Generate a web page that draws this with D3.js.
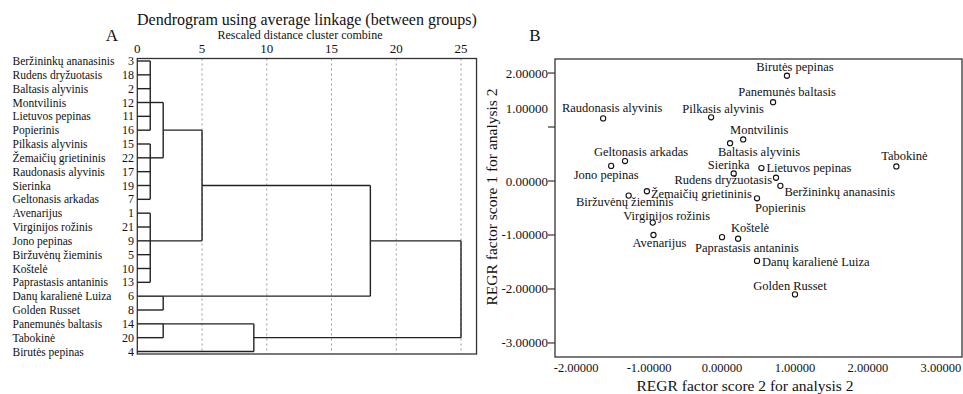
<html>
<head>
<meta charset="utf-8">
<script src="https://d3js.org/d3.v7.min.js"></script>
<style>
body { margin: 0; background: white; }
svg text { font-family: "Liberation Serif", "Times New Roman", serif; fill: #111; }
</style>
</head>
<body>
<svg width="963" height="394"></svg>
<script>
// ---- panel A: dendrogram data ----
const leafNames = ["Beržininkų ananasinis", "Rudens dryžuotasis", "Baltasis alyvinis", "Montvilinis",
  "Lietuvos pepinas", "Popierinis", "Pilkasis alyvinis", "Žemaičių grietininis", "Raudonasis alyvinis",
  "Sierinka", "Geltonasis arkadas", "Avenarijus", "Virginijos rožinis", "Jono pepinas",
  "Biržuvėnų žieminis", "Koštelė", "Paprastasis antaninis", "Danų karalienė Luiza", "Golden Russet",
  "Panemunės baltasis", "Tabokinė", "Birutės pepinas"];
const leafIds = [3, 18, 2, 12, 11, 16, 15, 22, 17, 19, 7, 1, 21, 9, 5, 10, 13, 6, 8, 14, 20, 4];
// merges: members are leaf rows (numbers) or earlier cluster ids; row = row where the joined branch leaves
const merges = [
  {id: "A", members: [0, 1, 2, 3, 4, 5], dist: 1, row: 3},
  {id: "B", members: [6, 7, 8, 9, 10], dist: 1, row: 7},
  {id: "C", members: [11, 12, 13, 14, 15, 16], dist: 1, row: 13},
  {id: "AB", members: ["A", "B"], dist: 2, row: 5},
  {id: "D", members: [17, 18], dist: 2, row: 17},
  {id: "E", members: [19, 20], dist: 2, row: 19},
  {id: "ABC", members: ["AB", "C"], dist: 5, row: 9},
  {id: "EF", members: ["E", 21], dist: 9, row: 20},
  {id: "ABCD", members: ["ABC", "D"], dist: 18, row: 13},
  {id: "root", members: ["ABCD", "EF"], dist: 25, row: null}
];
const distTicks = [0, 5, 10, 15, 20, 25];

// ---- panel B: factor scores ----
const cultivars = ["Birutės pepinas", "Panemunės baltasis", "Pilkasis alyvinis", "Raudonasis alyvinis",
  "Montvilinis", "Baltasis alyvinis", "Geltonasis arkadas", "Jono pepinas", "Sierinka", "Lietuvos pepinas",
  "Tabokinė", "Rudens dryžuotasis", "Beržininkų ananasinis", "Žemaičių grietininis", "Biržuvėnų žieminis",
  "Popierinis", "Virginijos rožinis", "Avenarijus", "Koštelė", "Paprastasis antaninis",
  "Danų karalienė Luiza", "Golden Russet"];
const score2 = [0.89, 0.70, -0.15, -1.63, 0.29, 0.11, -1.33, -1.52, 0.16, 0.54,
  2.39, 0.74, 0.80, -1.03, -1.28, 0.48, -0.95, -0.94, 0.22, 0.00, 0.48, 1.00];
const score1 = [1.95, 1.46, 1.18, 1.16, 0.77, 0.70, 0.37, 0.28, 0.14, 0.24,
  0.27, 0.06, -0.09, -0.19, -0.27, -0.32, -0.77, -1.00, -1.07, -1.04, -1.48, -2.10];
const xTicks = [-2, -1, 0, 1, 2, 3];
const yTicks = [2, 1, 0, -1, -2, -3];

const svg = d3.select("svg");
svg.append("rect").attr("width", 963).attr("height", 394).attr("fill", "white");

// ================= A =================
const dx = d3.scaleLinear().domain([0, 25]).range([137.3, 461]);
const dy = d3.scaleLinear().domain([0, 21]).range([61, 351.5]);
const frameA = {left: dx(0), right: dx(26.2), top: 58.5, bottom: 354};

const gA = svg.append("g");
gA.append("text").attr("x", 112).attr("y", 41).attr("text-anchor", "middle")
  .style("font-size", "17px").text("A");
gA.append("text").attr("x", (frameA.left + frameA.right) / 2).attr("y", 25)
  .attr("text-anchor", "middle").style("font-size", "16px")
  .text("Dendrogram using average linkage (between groups)");
gA.append("text").attr("x", 300).attr("y", 38.5).attr("text-anchor", "middle")
  .style("font-size", "12px").text("Rescaled distance cluster combine");

gA.selectAll(".grid").data(distTicks.filter(d => d > 0)).enter().append("line")
  .attr("x1", d => dx(d)).attr("x2", d => dx(d))
  .attr("y1", frameA.top).attr("y2", frameA.bottom)
  .attr("stroke", "#999").attr("stroke-width", 1).attr("stroke-dasharray", "2,3");

gA.selectAll(".tick").data(distTicks).enter().append("text")
  .attr("x", d => dx(d)).attr("y", 53).attr("text-anchor", "middle")
  .style("font-size", "13px").text(d => d);

gA.append("rect").attr("x", frameA.left).attr("y", frameA.top)
  .attr("width", frameA.right - frameA.left).attr("height", frameA.bottom - frameA.top)
  .attr("fill", "none").attr("stroke", "#333").attr("stroke-width", 1.3);

gA.selectAll(".name").data(leafNames).enter().append("text")
  .attr("x", 12.5).attr("y", (d, i) => dy(i) + 4).style("font-size", "11.5px").text(d => d);
gA.selectAll(".num").data(leafIds).enter().append("text")
  .attr("x", 134).attr("y", (d, i) => dy(i) + 4).attr("text-anchor", "end")
  .style("font-size", "12px").text(d => d);

const node = {};
merges.forEach(m => {
  const kids = m.members.map(k => typeof k === "number" ? {row: k, dist: 0} : node[k]);
  kids.forEach(k => {
    gA.append("line").attr("x1", dx(k.dist)).attr("x2", dx(m.dist))
      .attr("y1", dy(k.row)).attr("y2", dy(k.row));
  });
  const rows = kids.map(k => k.row);
  gA.append("line").attr("x1", dx(m.dist)).attr("x2", dx(m.dist))
    .attr("y1", dy(d3.min(rows))).attr("y2", dy(d3.max(rows)));
  node[m.id] = {row: m.row, dist: m.dist};
});
gA.selectAll("line:not([stroke])").attr("stroke", "#222").attr("stroke-width", 1.4);

// ================= B =================
const sx = d3.scaleLinear().domain([-2.29, 3.29]).range([555, 962]);
const sy = d3.scaleLinear().domain([-3.26, 2.26]).range([357, 59]);

const gB = svg.append("g");
gB.append("text").attr("x", 535).attr("y", 41).attr("text-anchor", "middle")
  .style("font-size", "17px").text("B");

gB.append("rect").attr("x", sx.range()[0]).attr("y", sy.range()[1])
  .attr("width", sx.range()[1] - sx.range()[0]).attr("height", sy.range()[0] - sy.range()[1])
  .attr("fill", "none").attr("stroke", "#333").attr("stroke-width", 1.3);

gB.selectAll(".ytick").data(yTicks).enter().append("line")
  .attr("x1", 548).attr("x2", 555).attr("y1", d => sy(d)).attr("y2", d => sy(d))
  .attr("stroke", "#333").attr("stroke-width", 1.2);
gB.selectAll(".ylab").data(yTicks).enter().append("text")
  .attr("x", 548).attr("y", d => sy(d) + (d === 1 ? -19 : 0) + 4.5)
  .attr("text-anchor", "end").style("font-size", "13px")
  .text(d => d3.format(".5f")(d).replace("−", "-"));
gB.selectAll(".xlab").data(xTicks).enter().append("text")
  .attr("x", d => sx(d)).attr("y", 371.5).attr("text-anchor", "middle")
  .style("font-size", "12.5px").text(d => d3.format(".5f")(d).replace("−", "-"));

gB.append("text").attr("x", 745).attr("y", 391).attr("text-anchor", "middle")
  .style("font-size", "15.5px").text("REGR factor score 2 for analysis 2");
gB.append("text").attr("transform", "translate(497,197) rotate(-90)")
  .attr("text-anchor", "middle").style("font-size", "15.5px")
  .text("REGR factor score 1 for analysis 2");

// label placement next to each point: [dx, dy, anchor]
const labelAt = {
  "Birutės pepinas": [8, -5, "middle"], "Panemunės baltasis": [14, -6, "middle"],
  "Pilkasis alyvinis": [12, -4, "middle"], "Raudonasis alyvinis": [9, -6, "middle"],
  "Montvilinis": [16, -5, "middle"], "Baltasis alyvinis": [29, 13, "middle"],
  "Geltonasis arkadas": [16, -5, "middle"], "Jono pepinas": [-5, 13, "middle"],
  "Sierinka": [-5, -4, "middle"], "Lietuvos pepinas": [5, 4, "start"],
  "Tabokinė": [8, -6, "middle"], "Rudens dryžuotasis": [-4, 6, "end"],
  "Beržininkų ananasinis": [4, 10, "start"], "Žemaičių grietininis": [4, 6.5, "start"],
  "Biržuvėnų žieminis": [-4, 10.5, "middle"], "Popierinis": [-2, 14, "start"],
  "Virginijos rožinis": [14, -2.5, "middle"], "Avenarijus": [6, 12, "middle"],
  "Koštelė": [12, -7, "middle"], "Paprastasis antaninis": [25, 15, "middle"],
  "Danų karalienė Luiza": [5, 5, "start"], "Golden Russet": [-5, -4, "middle"]
};

const pts = gB.selectAll(".pt").data(cultivars).enter().append("g")
  .attr("transform", (d, i) => "translate(" + sx(score2[i]) + "," + sy(score1[i]) + ")");
pts.append("circle").attr("r", 2.6).attr("fill", "white").attr("stroke", "#111").attr("stroke-width", 1.1);
pts.append("text").attr("x", d => labelAt[d][0]).attr("y", d => labelAt[d][1])
  .attr("text-anchor", d => labelAt[d][2]).style("font-size", "12.5px").text(d => d);
</script>
</body>
</html>
